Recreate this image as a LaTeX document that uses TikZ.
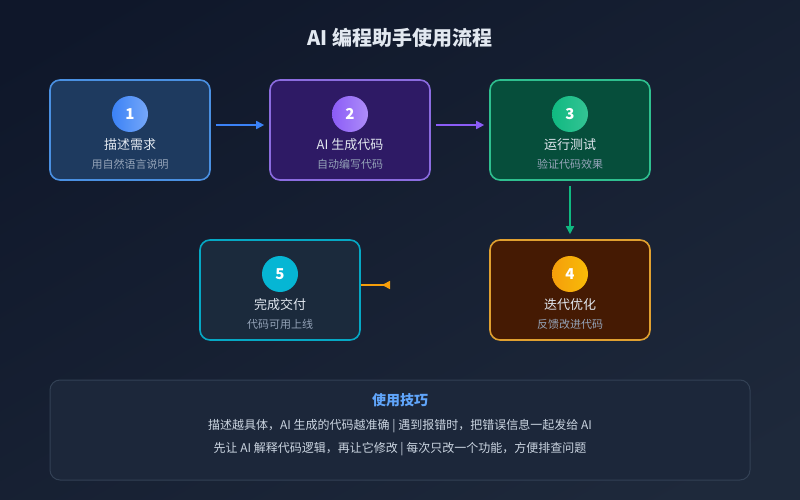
\documentclass[tikz,border=0pt]{standalone}
\usepackage{fontspec}
\setmainfont{Noto Sans CJK SC}
\usetikzlibrary{arrows.meta, positioning, calc}

\definecolor{bgtop}{HTML}{0F172A}
\definecolor{bgbot}{HTML}{1E293B}
\definecolor{fillA}{HTML}{1E3A5F}
\definecolor{lineA}{HTML}{4A90E2}
\definecolor{dotA}{HTML}{3B82F6}
\definecolor{fillB}{HTML}{2E1A65}
\definecolor{lineB}{HTML}{8B6CE0}
\definecolor{dotB}{HTML}{8B5CF6}
\definecolor{fillC}{HTML}{064E3B}
\definecolor{lineC}{HTML}{2FBF8F}
\definecolor{dotC}{HTML}{10B981}
\definecolor{fillD}{HTML}{451A03}
\definecolor{lineD}{HTML}{E0A030}
\definecolor{dotD}{HTML}{F59E0B}
\definecolor{fillE}{HTML}{1B2A3C}
\definecolor{lineE}{HTML}{06A8C4}
\definecolor{dotE}{HTML}{06B6D4}
\definecolor{tipfill}{HTML}{1C273A}
\definecolor{tipline}{HTML}{334155}
\definecolor{headtxt}{HTML}{E2E8F0}
\definecolor{subtxt}{HTML}{94A3B8}
\definecolor{tiptxt}{HTML}{CBD5E1}
\definecolor{tiphead}{HTML}{60A5FA}

\begin{document}
\begin{tikzpicture}[
        x=1pt, y=-1pt,
        stepbox/.style={rectangle, rounded corners=10pt, line width=1.6pt, minimum width=160pt, minimum height=100pt},
        numdot/.style={circle, minimum size=36pt, inner sep=0pt, text=white, font=\bfseries\fontsize{15}{15}\selectfont},
        steptitle/.style={text=headtxt, font=\fontsize{13}{15}\selectfont},
        stepsub/.style={text=subtxt, font=\fontsize{11}{13}\selectfont},
        arr/.style={-{Triangle[length=8pt, width=8pt]}, line width=1.6pt},
        tipline/.style={text=tiptxt, font=\fontsize{12}{14}\selectfont}
    ]
    % Background
    \useasboundingbox (0,0) rectangle (800,500);
    \shade[top color=bgtop, bottom color=bgbot, shading angle=30] (-60,-60) rectangle (860,560);

    % Title
    \node[text=headtxt, font=\bfseries\fontsize{20}{23}\selectfont] (title) at (400,38) {AI 编程助手使用流程};

    % Steps
    \node[stepbox, fill=fillA, draw=lineA] (step1) at (130,130) {};
    \node[stepbox, fill=fillB, draw=lineB] (step2) at (350,130) {};
    \node[stepbox, fill=fillC, draw=lineC] (step3) at (570,130) {};
    \node[stepbox, fill=fillD, draw=lineD] (step4) at (570,290) {};
    \node[stepbox, fill=fillE, draw=lineE] (step5) at (280,290) {};

    \node[numdot, left color=dotA, right color=dotA!70!white] (num1) at (130,114) {1};
    \node[numdot, left color=dotB, right color=dotB!70!white] (num2) at (350,114) {2};
    \node[numdot, left color=dotC, right color=dotC!85!white] (num3) at (570,114) {3};
    \node[numdot, left color=dotD, right color=dotD!70!yellow] (num4) at (570,274) {4};
    \node[numdot, fill=dotE] (num5) at (280,274) {5};

    \node[steptitle] (name1) at (130,145) {描述需求};
    \node[steptitle] (name2) at (350,145) {AI 生成代码};
    \node[steptitle] (name3) at (570,145) {运行测试};
    \node[steptitle] (name4) at (570,305) {迭代优化};
    \node[steptitle] (name5) at (280,305) {完成交付};

    \node[stepsub] (desc1) at (130,164) {用自然语言说明};
    \node[stepsub] (desc2) at (350,164) {自动编写代码};
    \node[stepsub] (desc3) at (570,164) {验证代码效果};
    \node[stepsub] (desc4) at (570,324) {反馈改进代码};
    \node[stepsub] (desc5) at (280,324) {代码可用上线};

    % Connectors
    \draw[arr, draw=dotA, fill=dotA] ([xshift=5pt, yshift=5pt]step1.east) -- ([xshift=-5pt, yshift=5pt]step2.west);
    \draw[arr, draw=dotB, fill=dotB] ([xshift=5pt, yshift=5pt]step2.east) -- ([xshift=-5pt, yshift=5pt]step3.west);
    \draw[arr, draw=dotC, fill=dotC] ([yshift=-5pt]step3.south) -- ([yshift=5pt]step4.north);
    \coordinate (back4) at (390,285);
    \draw[arr, draw=dotD, fill=dotD, -{Triangle[reversed, length=8pt, width=8pt]}] ([yshift=5pt]step5.east) -- (back4);

    % Tips
    \node[rectangle, rounded corners=10pt, fill=tipfill, draw=tipline, line width=1pt, minimum width=700pt, minimum height=100pt] (tips) at (400,430) {};
    \node[text=tiphead, font=\bfseries\fontsize{14}{16}\selectfont] (tiptitle) at (400,400) {使用技巧};
    \node[tipline] (tip1) at (400,426) {描述越具体，AI 生成的代码越准确 | 遇到报错时，把错误信息一起发给 AI};
    \node[tipline] (tip2) at (400,449) {先让 AI 解释代码逻辑，再让它修改 | 每次只改一个功能，方便排查问题};
\end{tikzpicture}
\end{document}
